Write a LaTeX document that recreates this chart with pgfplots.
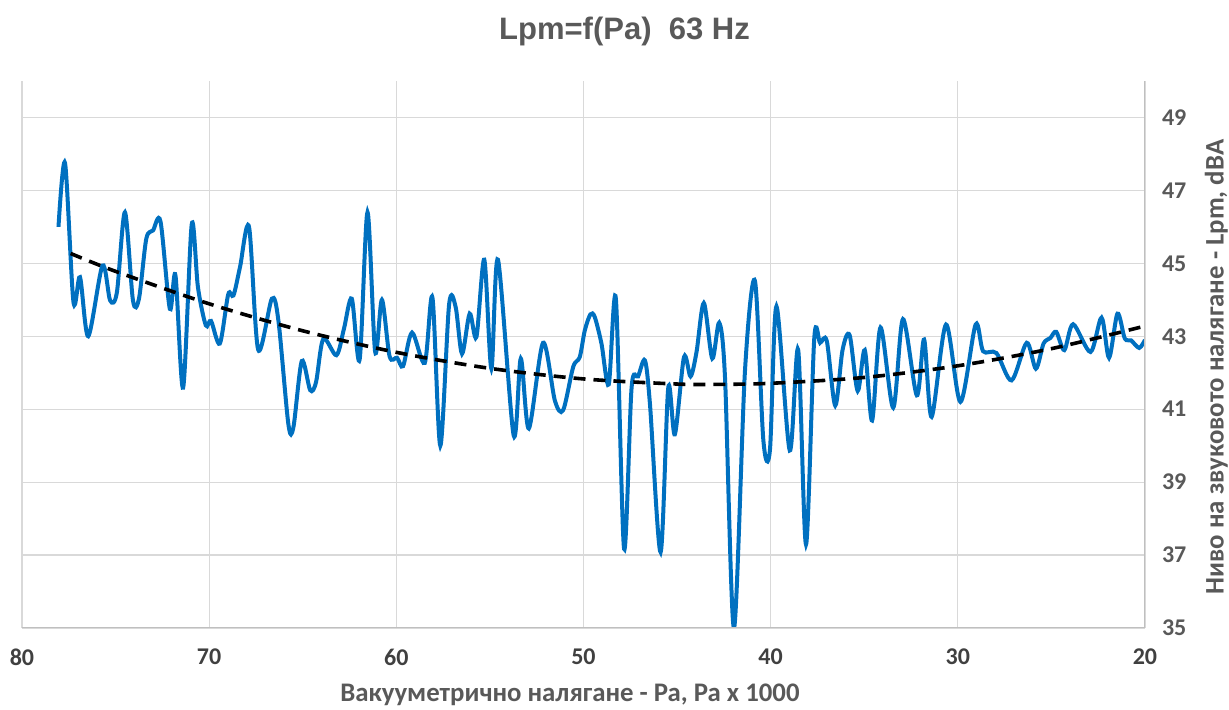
\documentclass[border=0pt]{standalone}
\usepackage{pgfplots}
\pgfplotsset{compat=1.18}
\usepackage{fontspec}
\setmainfont{Carlito}
\newfontfamily\arialfont{Liberation Sans}

\definecolor{lineblue}{RGB}{0,112,192}
\definecolor{gridgray}{RGB}{217,217,217}
\definecolor{axisgray}{RGB}{191,191,191}
\definecolor{txtgray}{RGB}{89,89,89}
\definecolor{tickdark}{RGB}{64,64,64}

\begin{document}
\begin{tikzpicture}
\useasboundingbox (-11pt,-41pt) rectangle (603.5pt,314pt);
\begin{axis}[
    at={(0,0)}, anchor=south west,
    width=561.5pt, height=273.5pt, scale only axis,
    x dir=reverse,
    xmin=20, xmax=80, ymin=35, ymax=50,
    xtick={20,30,...,80},
    ytick={35,37,...,49},
    yticklabel pos=right,
    /pgf/number format/assume math mode=true,
    axis line style={draw=none},
    major tick length=0pt,
    xmajorgrids, ymajorgrids,
    grid style={gridgray, line width=0.6pt},
    xticklabel style={font=\bfseries\fontsize{12}{14}\selectfont, text=tickdark, yshift=-7pt},
    yticklabel style={font=\bfseries\fontsize{12}{14}\selectfont, text=txtgray, xshift=5pt},
    xlabel={Вакууметрично налягане - Pa, Pa x 1000},
    ylabel={Ниво на звуковото налягане - Lpm, dBA},
    label style={font=\bfseries\fontsize{13.4}{15}\selectfont, text=txtgray},
    xlabel style={at={(axis description cs:0.488,-0.1225)}, anchor=center},
    ylabel style={at={(axis description cs:1.0635,0.477)}, anchor=center},
    title={Lpm=f(Pa)\ \ 63 Hz},
    title style={font=\arialfont\bfseries\fontsize{15.5}{18}\selectfont, text=txtgray,
                 at={(axis description cs:0.5365,1.069)}, anchor=center, yshift=0pt},
]
\addplot[lineblue, line width=2pt, smooth, tension=0.5] coordinates {
(78.05,46.0) (77.7,47.75) (77.25,43.94) (76.9,44.62) (76.46,43.0)
(75.7,44.94) (75.29,43.98) (74.93,44.2) (74.5,46.4) (74.07,43.98)
(73.75,44.03) (73.36,45.67) (73.0,45.9) (72.6,46.15) (72.1,43.75)
(71.8,44.67) (71.39,41.59) (70.93,46.07) (70.6,44.35) (70.18,43.3)
(69.9,43.42) (69.43,42.8) (68.98,44.15) (68.7,44.12) (68.35,44.9)
(67.87,46.0) (67.38,42.63) (66.65,44.03) (66.3,43.43) (65.77,40.6)
(65.5,40.5) (65.05,42.32) (64.6,41.52) (64.29,41.74) (63.9,42.93)
(63.2,42.48) (62.8,43.2) (62.38,44.03) (61.96,42.36) (61.54,46.4)
(61.13,42.57) (60.77,44.0) (60.36,42.45) (59.96,42.41) (59.64,42.18)
(59.16,43.1) (58.48,42.27) (58.07,44.06) (57.65,40.0) (57.18,43.87)
(56.83,43.8) (56.49,42.52) (56.08,43.62) (55.72,42.98) (55.3,45.1)
(54.92,42.11) (54.57,45.1) (53.73,40.28) (53.35,42.39) (52.92,40.47)
(52.16,42.82) (51.53,41.24) (51.09,40.97) (50.55,42.16) (50.2,42.43)
(49.93,43.16) (49.63,43.6) (49.4,43.53) (49.04,42.8) (48.65,41.68)
(48.27,44.03) (47.83,37.17) (47.43,41.59) (47.08,41.9) (46.72,42.34)
(46.45,41.15) (45.88,37.08) (45.47,41.59) (45.12,40.31) (44.63,42.43)
(44.28,41.9) (43.96,42.57) (43.57,43.91) (43.12,42.39) (42.75,43.37)
(42.44,41.88) (41.96,35.0) (41.37,42.07) (40.84,44.52) (40.39,40.15)
(40.04,39.87) (39.69,43.82) (38.98,39.87) (38.53,42.63) (38.11,37.29)
(37.67,42.94) (37.36,42.82) (37.0,42.87) (36.55,41.1) (36.16,42.62)
(35.78,43.03) (35.35,41.5) (34.97,42.62) (34.58,40.69) (34.13,43.24)
(33.45,41.04) (32.93,43.47) (32.19,41.38) (31.8,42.91) (31.4,40.79)
(30.63,43.32) (29.86,41.2) (29.05,43.32) (28.65,42.59) (27.94,42.54)
(27.13,41.79) (26.32,42.82) (25.83,42.11) (25.42,42.8) (25.06,42.95)
(24.74,43.12) (24.31,42.62) (23.84,43.33) (22.91,42.57) (22.32,43.51)
(21.92,42.41) (21.47,43.62) (21.08,42.94) (20.75,42.89) (20.31,42.68)
(20.0,42.9)
};
\addplot[black, line width=1.8pt, dash pattern=on 6pt off 4pt, smooth] coordinates {
(77.4,45.27) (75,44.78) (70,43.89) (65,43.15) (60,42.56) (55,42.12)
(50,41.83) (45,41.69) (43,41.68) (40,41.71) (35,41.87) (30,42.19)
(25,42.66) (20,43.28)
};
\draw[axisgray, line width=0.8pt] (axis description cs:0,0) -- (axis description cs:1,0) -- (axis description cs:1,1);
\end{axis}
\end{tikzpicture}
\end{document}
